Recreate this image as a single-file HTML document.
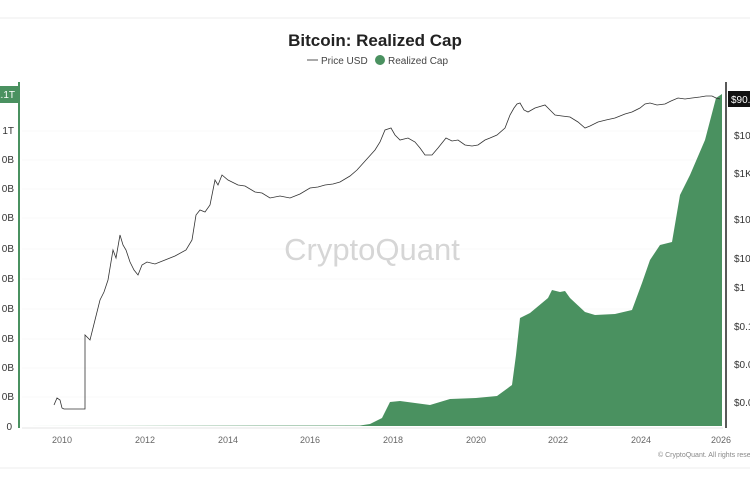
<!DOCTYPE html>
<html><head><meta charset="utf-8"><style>
body{margin:0;background:#fff;width:750px;height:480px;overflow:hidden;font-family:"Liberation Sans",sans-serif}
</style></head><body>
<svg width="750" height="480" viewBox="0 0 750 480" xmlns="http://www.w3.org/2000/svg" font-family="Liberation Sans, sans-serif">
<rect width="750" height="480" fill="#fff"/>
<line x1="0" y1="18" x2="750" y2="18" stroke="#eee"/>
<line x1="0" y1="468" x2="750" y2="468" stroke="#eee"/>
<text x="375" y="46" text-anchor="middle" font-size="17" font-weight="bold" fill="#222">Bitcoin: Realized Cap</text>
<line x1="307" y1="60" x2="318" y2="60" stroke="#555" stroke-width="1"/>
<text x="321" y="64" font-size="10" fill="#444">Price USD</text>
<circle cx="380" cy="60" r="5" fill="#4a9160"/>
<text x="388" y="64" font-size="10" fill="#444">Realized Cap</text>
<g stroke="#f8f8f8">
<line x1="22" y1="131" x2="723" y2="131"/><line x1="22" y1="160" x2="723" y2="160"/><line x1="22" y1="189" x2="723" y2="189"/><line x1="22" y1="218" x2="723" y2="218"/><line x1="22" y1="249" x2="723" y2="249"/><line x1="22" y1="279" x2="723" y2="279"/><line x1="22" y1="309" x2="723" y2="309"/><line x1="22" y1="339" x2="723" y2="339"/><line x1="22" y1="368" x2="723" y2="368"/><line x1="22" y1="397" x2="723" y2="397"/>
</g>
<text x="372" y="260" text-anchor="middle" font-size="31" fill="#d6d6d6">CryptoQuant</text>
<path d="M22,426 L360,425.5 L370,424 L382,418 L390,402 L400,401 L430,405 L450,399 L476,398 L497,396 L512,385 L516,355 L520,318 L530,313 L548,298 L552,290 L560,292 L565,291 L570,298 L585,312 L595,315 L615,314 L632,310 L642,283 L650,260 L660,245 L672,242 L680,195 L690,175 L705,140 L716,98 L722,94 L722,426 Z" fill="#4a9160"/>
<polyline fill="none" stroke="#333" stroke-width="0.8" points="54,405 57,398 60,400 62,408 64,409 85,409 85,335 90,340 95,320 100,300 104,292 108,280 113,250 116,258 120,235 123,245 126,250 130,262 134,270 138,275 142,265 147,262 155,264 165,260 175,256 186,250 192,240 196,215 200,210 205,212 210,205 215,180 218,185 222,175 228,180 238,185 245,186 255,192 262,193 270,198 280,196 290,198 300,194 310,188 318,187 325,185 333,184 340,182 350,176 357,170 366,160 375,150 380,142 385,130 391,128 395,135 400,140 408,138 415,142 420,148 425,155 432,155 438,148 446,138 452,141 458,140 465,145 472,146 478,145 485,140 490,138 497,135 505,128 510,115 514,108 517,104 520,103 524,110 528,112 535,108 545,105 550,110 555,115 562,116 570,117 578,122 585,128 590,126 598,122 606,120 615,118 625,114 632,112 640,108 645,104 650,103 657,105 665,104 671,101 678,98 685,99 692,98 700,97 706,96 712,96 716,98 720,99"/>
<line x1="19" y1="82" x2="19" y2="428" stroke="#4a9160" stroke-width="2"/>
<line x1="726" y1="82" x2="726" y2="428" stroke="#222" stroke-width="1.5"/>
<line x1="22" y1="428" x2="723" y2="428" stroke="#e6e6e6"/>
<rect x="0" y="86" width="19" height="17" fill="#4a9160"/>
<text x="15" y="98" text-anchor="end" font-size="10" fill="#fff">1.1T</text>
<g font-size="10" fill="#333" text-anchor="end">
<text x="14" y="134">1T</text><text x="14" y="163">0B</text><text x="14" y="192">0B</text><text x="14" y="221">0B</text><text x="14" y="252">0B</text><text x="14" y="282">0B</text><text x="14" y="312">0B</text><text x="14" y="342">0B</text><text x="14" y="371">0B</text><text x="14" y="400">0B</text><text x="12" y="430">0</text>
</g>
<rect x="728" y="91" width="22" height="16" fill="#111"/>
<text x="731" y="103" font-size="10" fill="#fff">$90.1</text>
<g font-size="10" fill="#333">
<text x="734" y="139">$10</text><text x="734" y="177">$1K</text><text x="734" y="223">$10</text><text x="734" y="262">$10</text><text x="734" y="291">$1</text><text x="734" y="330">$0.1</text><text x="734" y="368">$0.0</text><text x="734" y="406">$0.0</text>
</g>
<g font-size="9" fill="#666" text-anchor="middle">
<text x="62" y="443">2010</text><text x="145" y="443">2012</text><text x="228" y="443">2014</text><text x="310" y="443">2016</text><text x="393" y="443">2018</text><text x="476" y="443">2020</text><text x="558" y="443">2022</text><text x="641" y="443">2024</text><text x="721" y="443">2026</text>
</g>
<text x="658" y="457" font-size="7" fill="#888">© CryptoQuant. All rights reserved</text>
</svg>
</body></html>
